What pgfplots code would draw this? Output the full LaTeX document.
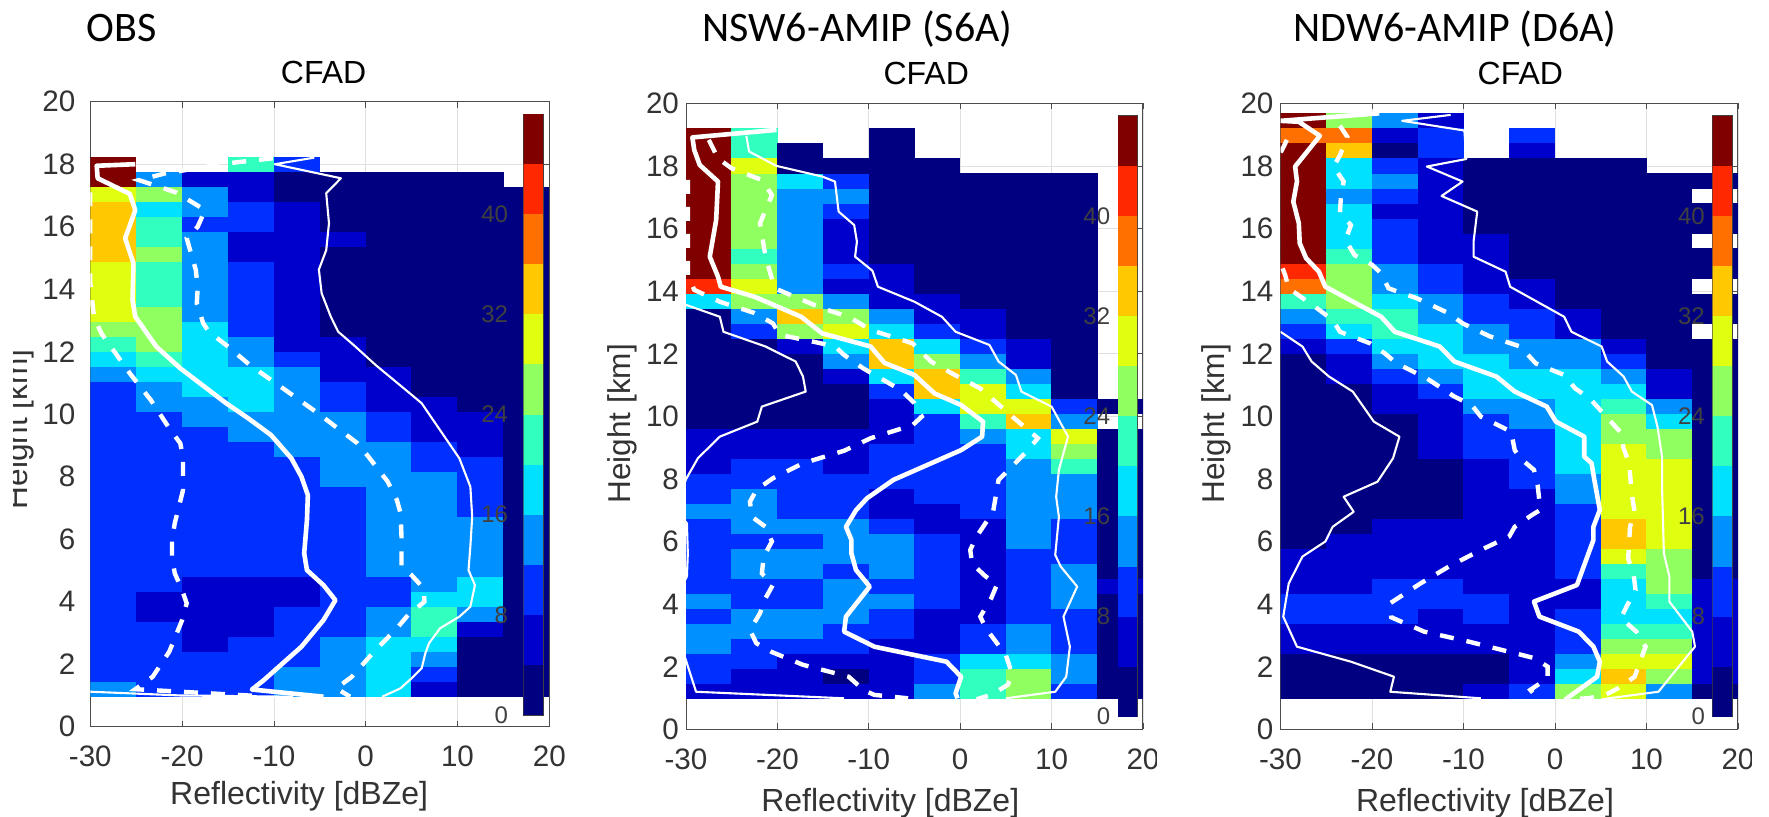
\documentclass[border=0pt]{standalone}
\usepackage{fontspec}
\setmainfont{Liberation Sans}
\newfontfamily\hdr{Carlito}
\usepackage{pgfplots}
\usepackage{pgfplotstable}
\pgfplotsset{compat=1.18}
\definecolor{tk}{gray}{0.2}
\pgfdeclareplotmark{cell}{\pgfpathrectangle{\pgfpoint{-11.55pt}{-3.8pt}}{\pgfpoint{23.1pt}{7.6pt}}\pgfusepathqfill}
\pgfdeclareplotmark{cbcell}{\pgfpathrectangle{\pgfpoint{-6pt}{-12.55pt}}{\pgfpoint{12pt}{25.1pt}}\pgfusepathqfill}
\pgfplotsset{
  colormap={cfad}{rgb255=(0,0,128) rgb255=(0,0,205) rgb255=(0,48,255) rgb255=(0,144,255) rgb255=(0,224,255) rgb255=(48,255,192) rgb255=(144,255,96) rgb255=(224,255,16) rgb255=(255,200,0) rgb255=(255,112,0) rgb255=(255,40,0) rgb255=(128,0,0)},
  cfadaxis/.style={
    at={(#1)},anchor=south west,scale only axis,
    xmin=-30,xmax=20,ymin=0,ymax=20,
    xtick={-30,-20,...,20},ytick={0,2,...,20},
    /pgf/number format/assume math mode=true,
    tick label style={font=\fontsize{14.8}{16}\selectfont,text=tk},
    label style={text=tk},
    axis line style={draw=black!70,line width=0.5pt},
    tick style={draw=black!70,line width=0.4pt},
    tick align=inside,major tick length=3pt,
    grid=major,major grid style={draw=black!12,line width=0.4pt},
    colormap name=cfad,colormap access=piecewise constant,
    point meta min=0,point meta max=48,
    clip marker paths=true,unbounded coords=discard,
    xticklabel style={yshift=-6.2pt},
  },
  heat/.style={scatter,only marks,mark=cell,point meta=explicit,scatter/use mapped color={draw=none,fill=mapped color},forget plot},
  med/.style={white,line width=2.3pt,no marks,line join=round,forget plot},
  dsh/.style={white,line width=2.2pt,no marks,dash pattern=on 7pt off 6.5pt,forget plot},
  thn/.style={white,line width=1.05pt,no marks,line join=round,forget plot},
  cbaxis/.style={
    at={(#1)},anchor=south west,scale only axis,width=9.6pt,height=300.5pt,
    xmin=0,xmax=1,ymin=0,ymax=48,xtick=\empty,ytick={0,8,...,40},
    ytick pos=both,yticklabel pos=left,tick align=inside,major tick length=2.5pt,
    /pgf/number format/assume math mode=true,
    yticklabel style={font=\fontsize{12}{13}\selectfont,text=black!75},
    axis line style={draw=black!75,line width=0.4pt},tick style={draw=black!75,line width=0.4pt},
    colormap name=cfad,colormap access=piecewise constant,point meta min=0,point meta max=48,
    clip marker paths=true,
  },
}
\pgfplotstableread{
y c
2 2
6 6
10 10
14 14
18 18
22 22
26 26
30 30
34 34
38 38
42 42
46 46
}\cbar
\pgfplotstableread{
y c1 c2 c3 c4 c5 c6 c7 c8 c9 c10
1.20 14 10 10 10 14 14 18 6 2 2
1.68 10 10 10 10 14 14 18 10 2 2
2.16 10 10 10 10 10 14 18 14 2 2
2.64 10 10 6 10 10 14 18 18 2 2
3.12 10 10 6 6 10 10 14 22 6 2
3.60 10 6 6 6 10 10 14 22 14 2
4.08 10 6 6 6 6 10 10 18 18 2
4.56 10 10 6 6 6 10 10 14 18 2
5.04 10 10 10 10 10 10 14 14 14 2
5.52 10 10 10 10 10 10 14 14 14 2
6.00 10 10 10 10 10 10 14 14 14 2
6.48 10 10 10 10 10 10 14 14 14 2
6.96 10 10 10 10 10 10 14 14 10 2
7.44 10 10 10 10 10 10 14 14 10 2
7.92 10 10 10 10 10 14 14 14 10 2
8.40 10 10 10 10 10 14 14 10 10 2
8.88 10 10 10 10 14 14 14 10 6 2
9.36 10 10 10 14 14 14 10 6 6 2
9.84 10 10 14 14 14 14 10 6 6 2
10.32 10 14 14 18 14 10 6 6 2 2
10.80 10 14 18 18 14 10 6 2 2 2
11.28 14 18 18 18 14 6 6 2 2 2
11.76 18 22 18 14 10 6 2 2 2 2
12.24 22 26 18 14 6 6 2 2 2 2
12.72 26 26 18 10 6 2 2 2 2 2
13.20 30 26 14 10 6 2 2 2 2 2
13.68 30 22 14 10 6 2 2 2 2 2
14.16 30 22 14 10 6 2 2 2 2 2
14.64 30 22 14 10 6 2 2 2 2 2
15.12 34 26 14 6 6 2 2 2 2 2
15.60 34 22 14 6 6 6 2 2 2 2
16.08 34 22 10 10 6 2 2 2 2 2
16.56 34 18 14 10 6 2 2 2 2 2
17.04 30 26 14 6 2 2 2 2 2 2
17.52 46 14 6 6 2 2 2 2 2 nan
18.00 46 nan nan 22 10 nan nan nan nan nan
}\cfadA
\pgfplotstableread{
y c1 c2 c3 c4 c5 c6 c7 c8 c9 c10
1.20 6 6 6 6 6 14 22 26 10 2
1.68 10 6 6 2 6 10 22 26 14 2
2.16 10 10 6 6 6 10 18 18 14 2
2.64 14 10 10 10 6 6 10 14 10 2
3.12 14 14 14 10 10 6 10 14 10 2
3.60 10 14 14 14 10 6 6 10 10 2
4.08 14 10 10 14 14 10 6 10 14 2
4.56 10 10 10 14 10 10 6 10 14 6
5.04 10 14 14 10 14 10 6 10 14 2
5.52 10 14 14 14 14 10 6 10 10 2
6.00 10 10 10 14 14 10 6 14 10 2
6.48 10 14 14 14 10 6 6 14 10 2
6.96 14 14 10 10 6 6 10 14 14 2
7.44 10 14 10 10 6 10 10 14 14 2
7.92 10 10 10 10 10 10 10 14 14 2
8.40 6 10 10 6 10 10 10 14 22 2
8.88 6 6 6 6 10 10 10 18 26 2
9.36 6 6 6 6 6 10 14 18 30 2
9.84 2 2 2 2 6 10 22 34 14 nan
10.32 2 2 2 2 6 18 30 30 10 2
10.80 2 2 2 2 10 34 30 18 2 nan
11.28 2 2 2 6 18 34 22 14 2 nan
11.76 2 2 2 14 34 26 14 6 2 nan
12.24 2 2 6 18 34 18 10 6 2 nan
12.72 2 10 26 30 18 10 6 2 2 nan
13.20 2 14 34 26 14 6 6 2 2 nan
13.68 18 26 26 14 6 6 2 2 2 nan
14.16 42 30 14 6 6 2 2 2 2 nan
14.64 46 26 14 10 6 2 2 2 2 nan
15.12 46 22 14 6 2 2 2 2 2 nan
15.60 46 26 14 6 2 2 2 2 2 nan
16.08 46 26 14 6 2 2 2 2 2 nan
16.56 46 26 14 10 2 2 2 2 2 nan
17.04 46 26 14 14 2 2 2 2 2 nan
17.52 46 26 18 10 2 2 2 2 2 nan
18.00 46 30 2 2 2 2 nan nan nan nan
18.48 46 22 2 nan 2 nan nan nan nan nan
18.96 46 22 nan nan 2 nan nan nan nan nan
}\cfadB
\pgfplotstableread{
y c1 c2 c3 c4 c5 c6 c7 c8 c9 c10
1.20 2 2 2 2 6 10 26 30 14 2
1.68 2 2 2 2 2 6 18 34 26 6
2.16 2 2 2 2 2 6 14 30 30 6
2.64 6 6 6 6 6 6 10 26 26 6
3.12 6 6 6 6 6 6 10 22 22 6
3.60 10 10 10 6 10 6 10 18 18 6
4.08 10 10 10 10 10 6 6 18 22 6
4.56 6 6 10 10 6 6 6 18 26 6
5.04 6 6 6 6 6 6 10 22 26 2
5.52 6 6 6 6 6 6 10 30 26 2
6.00 2 6 6 6 6 6 10 34 30 2
6.48 2 2 6 6 6 6 10 34 30 2
6.96 2 2 2 2 6 6 10 30 30 2
7.44 2 2 2 2 6 6 14 30 30 2
7.92 2 2 2 2 6 10 14 30 30 2
8.40 2 2 2 2 6 10 18 30 30 2
8.88 2 2 2 6 10 10 18 30 26 2
9.36 2 2 2 6 10 10 18 26 26 2
9.84 2 2 2 6 10 14 18 26 18 2
10.32 2 2 6 6 14 14 18 22 14 2
10.80 2 2 6 10 18 18 18 18 6 2
11.28 2 6 10 14 18 18 18 14 6 2
11.76 2 6 14 18 18 14 14 10 2 2
12.24 6 10 18 18 14 14 14 6 2 2
12.72 10 18 22 18 14 10 6 2 2 nan
13.20 14 22 22 14 10 10 6 2 2 2
13.68 22 26 18 14 10 6 2 2 2 2
14.16 38 26 14 10 6 6 2 2 2 nan
14.64 42 26 14 10 6 2 2 2 2 2
15.12 46 22 10 6 6 2 2 2 2 2
15.60 46 18 10 6 6 2 2 2 2 nan
16.08 46 18 10 6 2 2 2 2 2 2
16.56 46 18 6 6 2 2 2 2 2 2
17.04 46 14 10 6 2 2 2 2 2 nan
17.52 46 18 14 6 2 2 2 2 2 2
18.00 46 18 10 6 2 2 2 2 nan nan
18.48 46 34 2 10 nan 6 nan nan nan nan
18.96 38 38 6 10 nan 10 nan nan nan nan
19.44 46 26 14 6 nan nan nan nan nan nan
}\cfadC
\newcommand\heatmap[1]{%
  \pgfplotsinvokeforeach{1,2,3,4,5,6,7,8,9,10}{%
    \addplot[heat] table[x expr=-32.5+5*##1,y expr={\thisrow{c##1}>0 ? \thisrow{y} : nan},meta=c##1]{#1};}}
\newcommand\colbar[2]{%
\begin{axis}[cbaxis={#1},yticklabel style={xshift=#2}]
\addplot[scatter,only marks,mark=cbcell,point meta=explicit,scatter/use mapped color={draw=none,fill=mapped color},forget plot] table[x expr=0.5,y=y,meta=c]{\cbar};
\end{axis}}
\begin{document}
\begin{tikzpicture}
\useasboundingbox (0,0) rectangle (884.5pt,408pt);
%% OBS
\begin{axis}[cfadaxis={45.15pt,44.65pt},width=229.5pt,height=312.5pt,
  yticklabel style={xshift=-4pt},
  xlabel={Reflectivity [dBZe]},ylabel={Height [km]},
  xlabel style={at={(axis description cs:0.455,-0.125)},anchor=base,font=\fontsize{16}{18}\selectfont},
  ylabel style={at={(axis description cs:-0.136,0.476)},anchor=base,font=\fontsize{15.8}{17}\selectfont}]
\heatmap{\cfadA}
\addplot[med] coordinates {(-25.1,18.0)(-29.3,17.95)(-29.2,17.55)(-25.7,17.05)(-25.1,16.53)(-26.2,15.63)(-25.3,14.83)(-25.4,13.65)(-25.1,13.12)(-22.8,12.16)(-20.2,11.47)(-15.2,10.35)(-12.8,9.87)(-10.3,9.33)(-8.1,8.59)(-7.0,8.0)(-6.3,7.41)(-6.4,6.61)(-6.7,5.55)(-6.4,5.01)(-4.6,4.53)(-3.3,4.05)(-4.6,3.41)(-7.0,2.56)(-11.1,1.49)(-12.4,1.19)(-4.6,0.96)};
\addplot[dsh] coordinates {(-30,17.1)(-30,14.2)(-29.6,13.12)(-28.8,12.59)(-25.7,11.31)(-23.4,10.45)(-21.4,9.55)(-20.2,9.07)(-19.9,8.64)(-19.9,7.57)(-20.8,6.51)(-21.1,5.97)(-21.1,5.44)(-20.8,4.91)(-20,4.37)(-19.5,3.95)(-20,3.41)(-20.8,2.83)(-21.4,2.4)(-23.2,1.6)(-25.1,1.2)(-11,0.97)};
\addplot[dsh] coordinates {(-10.1,18.19)(-15,18.03)(-21.8,17.71)(-24.7,17.49)(-20.6,17.09)(-17.5,16.53)(-18.3,16.0)(-19.5,15.63)(-18.5,14.61)(-18.3,14.03)(-18.4,13.55)(-17.7,12.91)(-17.1,12.64)(-15.2,12.21)(-12.6,11.57)(-9.5,10.93)(-5.2,10.03)(-0.9,9.07)(0.3,8.64)(2.4,7.84)(3.4,7.25)(3.8,6.83)(3.9,6.08)(3.9,5.12)(5,4.85)(6.3,4.43)(6.4,4.0)(4.6,3.57)(3.4,3.15)(0.9,2.4)(-1.5,1.6)(-3.2,1.23)(-1.7,0.96)};
\addplot[thn] coordinates {(-5.6,18.21)(-9.9,18.0)(-2.7,17.55)(-4.3,17.07)(-4,16.11)(-4.3,15.25)(-5.1,14.63)(-4.8,13.87)(-3.8,13.12)(-3,12.64)(-1.3,12.21)(1.1,11.57)(4.8,10.67)(6.1,10.35)(8.1,9.49)(10.2,8.59)(11.4,7.68)(11.6,6.72)(11.4,5.76)(11.2,5.01)(11.9,4.53)(11.4,3.84)(10.2,3.52)(8.1,3.15)(6.9,2.67)(6.5,2.35)(6.1,1.87)(5,1.55)(3.8,1.23)(1.8,0.96)};
\addplot[thn] coordinates {(-30,1.12)(-20.2,1.0)(-7.9,0.96)};
\end{axis}
\colbar{261.85pt,50.5pt}{-4.3pt}
%% S6A
\begin{axis}[cfadaxis={343pt,43.35pt},width=228.5pt,height=313pt,
  xlabel={Reflectivity [dBZe]},ylabel={Height [km]},
  xlabel style={at={(axis description cs:0.447,-0.131)},anchor=base,font=\fontsize{16}{18}\selectfont},
  ylabel style={at={(axis description cs:-0.121,0.488)},anchor=base,font=\fontsize{15.8}{17}\selectfont}]
\heatmap{\cfadB}
\addplot[med] coordinates {(-20.1,19.15)(-29.3,18.91)(-29.1,18.51)(-28.5,18.03)(-26.5,17.5)(-26.7,16.27)(-27.4,15.1)(-26.5,14.46)(-26.2,14.14)(-22.5,13.82)(-17.4,13.18)(-15.1,12.65)(-9.8,12.23)(-8.3,11.71)(-5,11.32)(-2.8,10.73)(0.1,10.36)(2.5,9.83)(2.4,9.35)(0.1,8.92)(-7.3,7.97)(-10.2,7.38)(-11.4,7.0)(-12.5,6.47)(-11.9,6.05)(-11.9,5.62)(-11.4,5.09)(-9.9,4.56)(-12.5,3.6)(-12.7,3.12)(-9.4,2.64)(-1.5,2.16)(0.1,1.68)(-0.5,1.15)(-0.3,0.99)};
\addplot[dsh] coordinates {(-27.5,18.83)(-26.5,18.24)(-25,17.92)(-21.7,17.55)(-20.6,17.07)(-21.9,16.17)(-21.3,15.1)(-20.3,14.09)(-15.1,13.45)(-12.2,13.18)(-9.8,12.76)(-5.2,12.33)(-3.2,11.75)(-0.9,11.37)(2.2,10.89)(5.9,9.94)(8.5,9.3)(7.1,8.82)(4.2,7.97)(3.6,6.95)(1.8,6.16)(1.1,5.73)(1.3,5.3)(2.6,4.93)(4.0,4.61)(3.4,4.19)(2.2,3.6)(2.8,3.23)(5,2.37)(5.7,1.74)(5.2,1.42)(3.4,1.1)(1.8,0.96)};
\addplot[dsh] coordinates {(-29.8,17.55)(-29.8,15.0)(-29.8,14.5)(-29.1,14.04)(-26.3,13.66)(-22.5,13.3)(-20.5,12.97)(-19.7,12.6)(-16,12.38)(-13.7,12.23)(-12.7,11.96)(-10.6,11.53)(-6.5,10.84)(-5,10.42)(-4.2,9.99)(-5.2,9.72)(-9.8,9.3)(-12.7,8.9)(-17.2,8.5)(-20.5,8.02)(-22.3,7.65)(-23,7.27)(-22.8,6.79)(-21.3,6.47)(-20.6,6)(-21.5,5.52)(-21.7,4.98)(-20.5,4.61)(-21.3,4.19)(-21.9,3.71)(-23,3.17)(-22.3,2.75)(-20.7,2.48)(-17.2,2.06)(-12.2,1.68)(-10.6,1.26)(-9.4,1.1)(-5.7,0.99)};
\addplot[thn] coordinates {(-23.4,18.96)(-23.1,18.46)(-20.1,18)(-15.1,17.66)(-13.7,17.5)(-13.3,16.54)(-11.6,16.11)(-11.3,15.58)(-11.5,15.1)(-9.6,14.65)(-9,14.14)(-5,13.66)(-2,13.18)(-0.5,12.7)(3.2,12.28)(4.2,11.75)(6.1,11.32)(6.7,10.79)(10,10.31)(11.8,9.35)(10.8,8.29)(10.5,7.43)(10.8,6.79)(10.4,5.57)(11,5.2)(12.8,4.56)(11.3,3.6)(12,2.64)(11.6,1.68)(10.4,1.2)(5,0.99)};
\addplot[thn] coordinates {(-30,13.56)(-26.3,13.18)(-25.9,12.7)(-21.3,12.23)(-18,11.75)(-17.2,11.27)(-16.9,10.79)(-21.7,10.31)(-22.2,9.83)(-26.3,9.35)(-28.7,8.66)(-30,7.99)(-31,7.2)(-30.5,6.8)(-29.9,6.58)(-29.8,5.62)(-29.9,4.88)(-31,4.3)(-31,3)(-30,2.2)(-28.9,1.2)(-12.7,0.99)};
\end{axis}
\colbar{559pt,49.65pt}{-0.4pt}
%% D6A
\begin{axis}[cfadaxis={640.25pt,43.35pt},width=228.75pt,height=313pt,
  xlabel={Reflectivity [dBZe]},ylabel={Height [km]},
  xlabel style={at={(axis description cs:0.447,-0.131)},anchor=base,font=\fontsize{16}{18}\selectfont},
  ylabel style={at={(axis description cs:-0.123,0.488)},anchor=base,font=\fontsize{15.8}{17}\selectfont}]
\heatmap{\cfadC}
\addplot[med] coordinates {(-19.2,19.68)(-30,19.44)(-28,19.41)(-25.7,18.96)(-28.4,17.98)(-28.2,17.5)(-28.6,16.86)(-28,16.17)(-27.9,15.53)(-27.2,15.05)(-25.8,14.62)(-25.1,14.14)(-19,13.18)(-17.5,12.7)(-12.6,12.23)(-11,11.75)(-6.4,11.27)(-4.4,10.79)(-0.9,10.31)(0.1,9.83)(3.2,9.35)(3.2,8.71)(4,8.5)(4.3,7.97)(4.9,7.01)(4.2,6.47)(4.2,6.05)(2.4,4.61)(-2.3,4.08)(-1.7,3.6)(2.6,3.12)(4.2,2.64)(4.9,2.16)(4.6,1.68)(1.3,0.99)};
\addplot[dsh] coordinates {(-23.5,19.28)(-22.7,18.93)(-23.5,18.34)(-24.2,17.98)(-23.1,17.5)(-23.4,17.02)(-23.5,16.49)(-22.3,16.11)(-22.9,15.63)(-21.9,15.15)(-20,14.84)(-19,14.57)(-18.2,14.09)(-15.1,13.77)(-11.6,13.29)(-10.1,12.97)(-7.1,12.55)(-3.8,12.23)(-2.1,11.69)(1,11.32)(2.2,10.89)(3.8,10.57)(7.1,9.51)(7.5,8.98)(8.1,8.5)(8.4,7.49)(8.7,6.95)(8.2,6.47)(8,5.46)(8.6,4.93)(8.8,4.45)(7.9,3.97)(7.2,3.55)(8.9,3.12)(9.9,2.64)(8.7,1.68)(6.9,1.31)(5.5,1.1)(3.6,0.99)(1,0.96)};
\addplot[dsh] coordinates {(-29.3,18.83)(-30,18.41)(-31,17)(-31,15.2)(-30,14.9)(-29.5,14.52)(-29.1,14.09)(-26,13.45)(-24.3,13.08)(-23.5,12.7)(-20.2,12.33)(-18.6,12.01)(-17.3,11.69)(-14,11.21)(-11,10.63)(-9.1,10.36)(-8.1,9.99)(-4.8,9.51)(-4.4,8.92)(-3.8,8.66)(-2.3,8.29)(-1.9,7.81)(-1.6,7.01)(-2.5,6.85)(-4.4,6.47)(-5,6.16)(-8.1,5.73)(-11.6,5.2)(-14.7,4.66)(-18,4.03)(-17.9,3.58)(-14.3,3.12)(-9.4,2.8)(-2.2,2.27)(-0.8,2)(-0.8,1.63)(-2.7,1.26)(-1.9,0.99)};
\addplot[thn] coordinates {(-11.4,19.63)(-16.7,19.44)(-9.9,19.13)(-9.7,18.22)(-14,17.98)(-10.1,17.5)(-12.4,17.04)(-8.5,16.54)(-8.9,15.58)(-8.9,15.1)(-5.4,14.62)(-4.9,14.14)(1,13.18)(1.8,12.7)(5.1,12.23)(5.7,11.75)(7.5,11.27)(8.4,10.79)(10.6,10.36)(11.2,9.67)(11.7,8.71)(11.7,7.75)(11.9,5.62)(12.5,4.88)(12.5,4.08)(15,3.12)(15.3,2.64)(11.3,1.2)(5.1,0.96)};
\addplot[thn] coordinates {(-30,12.7)(-27.6,12.23)(-26.6,11.75)(-24.7,11.27)(-22.1,10.79)(-19.8,9.83)(-17,9.35)(-17.7,8.66)(-19.4,7.91)(-23.1,7.43)(-22,6.95)(-24.3,6.47)(-25.1,6)(-27.6,5.52)(-29.1,4.66)(-29.7,3.6)(-28.2,2.64)(-22.3,2.16)(-17.6,1.68)(-18,1.2)(-8.1,0.99)};
\end{axis}
\colbar{856.35pt,49.65pt}{-0.4pt}
%% cropping of the source panels
\fill[white] (0,120pt) rectangle (6.6pt,250pt);
\fill[white] (578.4pt,20pt) rectangle (590pt,42pt);
\fill[white] (876pt,20pt) rectangle (884.5pt,42pt);
%% titles
\node[anchor=base,text=black,font=\fontsize{16}{18}\selectfont] at (161.8pt,366pt) {CFAD};
\node[anchor=base,text=black,font=\fontsize{16}{18}\selectfont] at (463.1pt,365.5pt) {CFAD};
\node[anchor=base,text=black,font=\fontsize{16}{18}\selectfont] at (760.2pt,365.5pt) {CFAD};
\node[anchor=base west,inner sep=0pt,font=\hdr\fontsize{21}{24}\selectfont] at (43pt,387pt) {OBS};
\node[anchor=base west,inner sep=0pt,font=\hdr\fontsize{21}{24}\selectfont] at (351pt,387pt) {NSW6-AMIP (S6A)};
\node[anchor=base west,inner sep=0pt,font=\hdr\fontsize{21}{24}\selectfont] at (646.5pt,387pt) {NDW6-AMIP (D6A)};
\end{tikzpicture}
\end{document}
